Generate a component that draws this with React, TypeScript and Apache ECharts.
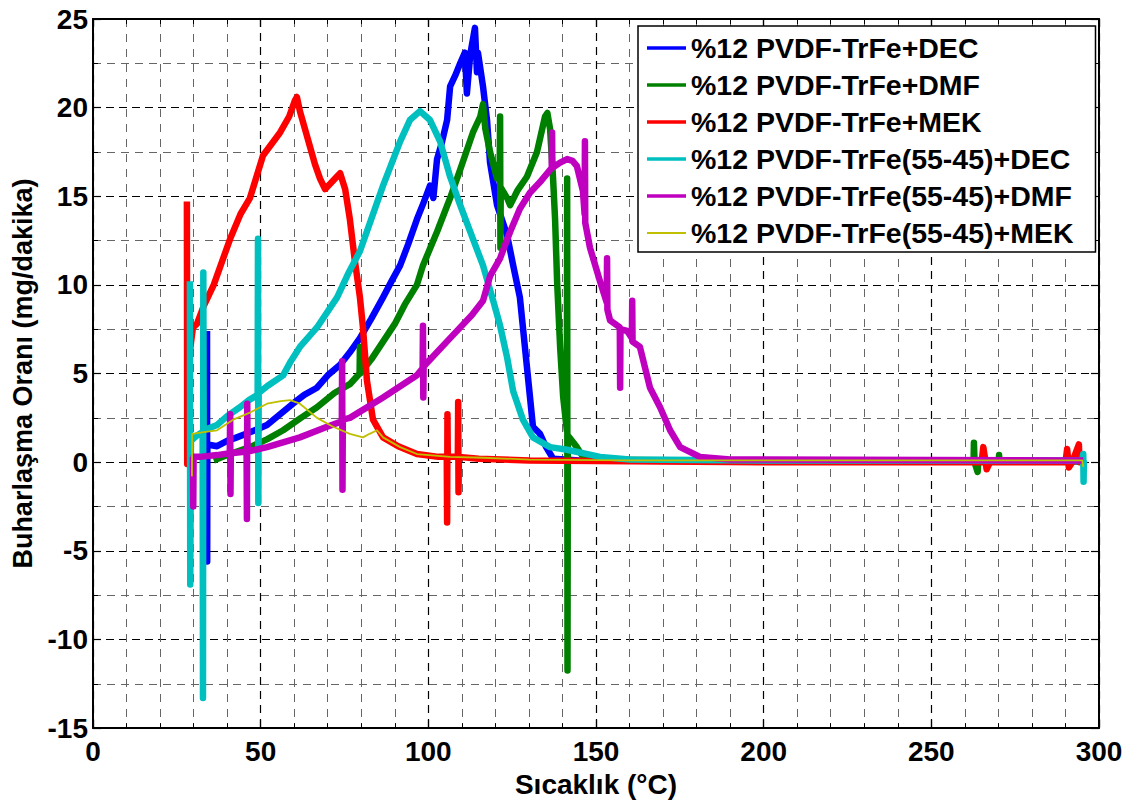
import React, { useEffect, useRef } from "react";
import * as echarts from "echarts";

const X_TICKS = [0, 50, 100, 150, 200, 250, 300];
const Y_TICKS = [-15, -10, -5, 0, 5, 10, 15, 20, 25];

const SERIES_NAMES = [
  "%12 PVDF-TrFe+DEC",
  "%12 PVDF-TrFe+DMF",
  "%12 PVDF-TrFe+MEK",
  "%12 PVDF-TrFe(55-45)+DEC",
  "%12 PVDF-TrFe(55-45)+DMF",
  "%12 PVDF-TrFe(55-45)+MEK",
];
const SERIES_COLORS = ["#0000FF", "#008000", "#FF0000", "#00BFBF", "#BF00BF", "#BFBF00"];

const decData = [
  [34.0, 7.4], [34.05, -5.6], [34.1, 1.0], [37.0, 0.9], [40, 1.2], [42.9, 1.4], [47, 1.7],
  [51.9, 2.1], [55.8, 2.7], [59.6, 3.3], [63, 3.8], [66.8, 4.2], [70, 4.9], [73.7, 5.5],
  [76.6, 6.2], [79.6, 7.0], [83, 8.1], [86.5, 9.3], [89, 10.2], [91.6, 11.1], [94, 12.3],
  [96.6, 13.7], [98.5, 14.6], [100.5, 15.6], [101.5, 14.9], [102.6, 17.1], [104, 18.0],
  [105.6, 19.3], [106.5, 21.2], [108, 21.8], [109.5, 22.5], [110.9, 23.1], [111.5, 20.8],
  [112.5, 23.0], [113.9, 24.5], [114.5, 22.0], [114.8, 23.1], [116.3, 21.2], [117.5, 19.3],
  [118.4, 16.9], [120.5, 14.5], [123.5, 12.8], [125.3, 11.1], [127.3, 9.3], [128.8, 6.5],
  [130.3, 3.7], [131.2, 2.0], [133.3, 1.6], [135, 0.9], [137.2, 0.2], [145, 0.1],
  [200, 0.05], [295.3, 0.05],
];

const dmfData = [
  [36, 0.1], [40, 0.4], [46.8, 0.85], [52, 1.3], [56.7, 1.8], [62, 2.5], [66.8, 3.1],
  [72, 3.9], [76.6, 4.4], [79.5, 5.0], [79.6, 6.5], [79.7, 5.0], [83, 5.8], [86.5, 6.8],
  [90, 7.8], [93, 8.9], [96.6, 10.0], [98.4, 11.1], [102.6, 13.0], [106.5, 14.9],
  [109.5, 16.5], [113.3, 18.6], [115.5, 19.5], [116.3, 20.2], [117, 18.8], [118.4, 17.5],
  [120.5, 16.0], [121.3, 17.0], [121.4, 19.5], [121.5, 12.1], [121.6, 15.5], [123.5, 14.9],
  [124.4, 14.5], [126.5, 15.3], [129.4, 16.1], [132.4, 17.5], [134.8, 19.5], [135.5, 19.7],
  [136.3, 18.8], [137.2, 16.0], [137.8, 13.7], [138.4, 10.2], [139.3, 6.5], [140.2, 3.7],
  [141.3, 1.8], [141.4, 16.0], [141.5, -11.75], [141.6, 1.5], [144.3, 0.85], [146.1, 0.3],
  [150, 0.15], [200, 0.05], [262.6, 0.05], [262.7, 1.1], [262.9, 0.0], [263.8, -0.55],
  [264, 0.05], [270.1, 0.05], [270.2, 0.4], [270.3, 0.05], [295.3, 0.05],
];

const mekData = [
  [28.0, 14.7], [28.1, -0.1], [28.5, 5.7], [29.8, 7.6], [31, 7.8], [33, 8.8], [36, 10.0],
  [40.9, 12.6], [44, 14.0], [46.8, 14.9], [50.7, 17.3], [55.8, 18.6], [58.5, 19.5],
  [60.2, 20.4], [60.8, 20.6], [61.7, 19.8], [63.2, 18.8], [66.2, 16.8], [67.7, 16.0],
  [69.2, 15.4], [72.2, 16.0], [73.7, 16.3], [75.2, 15.4], [76.6, 13.7], [78, 11.5],
  [79.6, 9.3], [80.5, 7.6], [81.7, 4.6], [83.5, 2.4], [86.5, 1.4], [91, 0.9], [96.6, 0.46],
  [103, 0.3], [105.5, 0.3], [105.6, -3.4], [105.7, 2.7], [105.8, 0.3], [108.8, 0.3],
  [108.9, 3.4], [109.0, -1.7], [109.1, 0.3], [115, 0.2], [130, 0.1], [200, 0.0],
  [265, 0.0], [265.5, 0.85], [266.5, -0.4], [267.5, 0.0], [290, 0.0], [290.5, 0.74],
  [291, -0.3], [292, 0.0], [294, 1.0], [294.2, 0.0], [295.3, 0.0],
];

const dec5545Data = [
  [28.9, 10.2], [29.0, -6.9], [29.2, 1.2], [31, 1.5], [32.7, 1.7], [32.8, -13.3],
  [32.9, 10.7], [33.0, 1.8], [37.0, 2.1], [40, 2.6], [43.8, 3.1], [46.5, 3.5], [49.1, 3.8],
  [49.2, 12.6], [49.3, -2.3], [49.4, 3.9], [52, 4.3], [56.7, 4.9], [59, 5.7], [61.7, 6.5],
  [66.8, 7.6], [72.8, 9.3], [76, 10.6], [79.6, 11.9], [86.5, 15.6], [91.6, 18.1],
  [94.5, 19.3], [97.5, 19.8], [100.5, 19.3], [103.5, 18.1], [106.5, 16.1], [109.5, 14.5],
  [113.3, 12.6], [116.3, 11.1], [119.5, 9.0], [121.4, 7.7], [123.5, 5.9], [125.3, 4.0],
  [128.2, 2.4], [131.2, 1.4], [136.3, 0.85], [141.4, 0.7], [151.2, 0.3], [160, 0.15],
  [200, 0.1], [295, 0.1], [295.3, 0.46], [295.4, -1.1], [295.5, 0.1],
];

const dmf5545Data = [
  [29.8, 0.3], [29.9, -2.5], [30.0, 0.3], [31.9, 0.3], [37, 0.4], [40.8, 0.5], [40.9, 2.7],
  [41.0, -1.8], [41.1, 0.5], [45.8, 0.6], [45.9, -3.2], [46.0, 3.3], [46.1, 0.6],
  [51.9, 0.85], [61.7, 1.4], [69.8, 2.0], [74.2, 2.3], [74.3, 5.7], [74.4, -1.55],
  [74.5, 2.4], [76.6, 2.5], [86.5, 3.65], [96.6, 4.9], [98.3, 5.3], [98.4, 7.7],
  [98.5, 3.65], [98.6, 5.4], [106.5, 7.0], [113, 8.3], [116.3, 9.1], [118.4, 10.5],
  [121.4, 11.5], [124.4, 13.0], [127.3, 14.3], [130.3, 15.2], [133.3, 15.8], [136.8, 16.6],
  [136.9, 18.6], [137.0, 16.6], [139.3, 16.9], [141.4, 17.1], [143, 17.0], [144.3, 16.7],
  [146.1, 15.3], [146.6, 14.0], [146.7, 18.1], [146.8, 13.5], [148.2, 12.1], [151.2, 10.2],
  [153.2, 9.0], [153.3, 11.5], [153.4, 8.6], [154.2, 8.0], [157.1, 7.6], [157.2, 4.2],
  [157.3, 7.5], [159.3, 7.4], [160.7, 7.0], [160.8, 9.1], [160.9, 6.8], [163.1, 6.5],
  [166.1, 4.2], [169.1, 3.1], [172.1, 1.8], [175.1, 0.85], [181.0, 0.3], [190, 0.15],
  [295.3, 0.1],
];

const mek5545Data = [
  [29.5, -0.8], [29.6, 1.6], [33, 1.7], [37.0, 1.8], [41.8, 2.4], [46.8, 2.8], [51.9, 3.3],
  [56, 3.45], [58.8, 3.5], [61.7, 3.3], [66.8, 2.5], [71.6, 2.0], [76.6, 1.6], [80.5, 1.4],
  [82.5, 1.6], [84.7, 1.8], [86.5, 1.4], [91.6, 0.85], [96.6, 0.46], [106.5, 0.3],
  [116.3, 0.25], [130, 0.15], [160, 0.1], [295, 0.1], [295.3, -0.27],
];

const ALL_DATA = [decData, dmfData, mekData, dec5545Data, dmf5545Data, mek5545Data];
const LINE_WIDTHS = [6.5, 6.5, 6.5, 6.5, 6.5, 1.8];
const LEGEND_WIDTHS = [3.5, 3.5, 3.5, 3.5, 3.5, 2];

const FONT = "'Liberation Sans', Arial, Helvetica, sans-serif";

export default function App() {
  const ref = useRef<HTMLDivElement>(null);
  useEffect(() => {
    if (!ref.current) return;
    const chart = echarts.init(ref.current, undefined, { renderer: "svg" });
    const xMin = X_TICKS[0];
    const xMax = X_TICKS[X_TICKS.length - 1];
    const yMin = Y_TICKS[0];
    const yMax = Y_TICKS[Y_TICKS.length - 1];
    const labelStyle = { fontFamily: FONT, fontWeight: "bold" as const, fontSize: 28, color: "#000" };
    const boxAxisCommon = {
      type: "value" as const,
      axisLine: { show: true, onZero: false, lineStyle: { color: "#000", width: 2 } },
      axisTick: { show: true, inside: true, length: 8, lineStyle: { color: "#000", width: 1.2 } },
      minorTick: { show: true, length: 5, lineStyle: { color: "#000", width: 1 } },
    };
    chart.setOption({
      animation: false,
      backgroundColor: "#fff",
      grid: { left: 93, top: 19, right: 33, bottom: 70, containLabel: false },
      legend: {
        orient: "vertical",
        left: 638,
        top: 26,
        padding: [7, 22, 4, 9],
        itemGap: 7,
        itemWidth: 39,
        itemHeight: 4,
        backgroundColor: "#fff",
        borderColor: "#000",
        borderWidth: 1.5,
        borderRadius: 0,
        textStyle: { fontFamily: FONT, fontWeight: "bold", fontSize: 28.5, color: "#000", lineHeight: 30 },
        data: SERIES_NAMES.map((n, i) => ({
          name: n,
          icon: `path://M0,0 H40 V${LEGEND_WIDTHS[i]} H0 Z`,
          itemStyle: { color: SERIES_COLORS[i] },
        })),
      },
      xAxis: [
        {
          ...boxAxisCommon,
          min: xMin,
          max: xMax,
          interval: 50,
          position: "bottom",
          minorTick: { ...boxAxisCommon.minorTick, splitNumber: 5 },
          axisLabel: { ...labelStyle, margin: 9 },
          splitLine: { show: true, lineStyle: { color: "#000", type: [8, 6], width: 1.2 } },
          minorSplitLine: { show: true, lineStyle: { color: "#666", type: [8, 7], width: 1 } },
          name: "Sıcaklık (°C)",
          nameLocation: "middle",
          nameGap: 37,
          nameTextStyle: { fontFamily: FONT, fontWeight: "bold", fontSize: 28, color: "#000" },
        },
        {
          ...boxAxisCommon,
          min: xMin,
          max: xMax,
          interval: 50,
          position: "top",
          minorTick: { ...boxAxisCommon.minorTick, splitNumber: 5 },
          axisLabel: { show: false },
          splitLine: { show: false },
        },
      ],
      yAxis: [
        {
          ...boxAxisCommon,
          min: yMin,
          max: yMax,
          interval: 5,
          position: "left",
          minorTick: { ...boxAxisCommon.minorTick, splitNumber: 2 },
          axisLabel: { ...labelStyle, margin: 5 },
          splitLine: { show: true, lineStyle: { color: "#000", type: [8, 5], width: 1.2 } },
          minorSplitLine: { show: true, lineStyle: { color: "#666", type: [8, 6], width: 1 } },
          name: "Buharlaşma Oranı (mg/dakika)",
          nameLocation: "middle",
          nameGap: 55,
          nameTextStyle: { fontFamily: FONT, fontWeight: "bold", fontSize: 27, color: "#000" },
        },
        {
          ...boxAxisCommon,
          min: yMin,
          max: yMax,
          interval: 5,
          position: "right",
          minorTick: { ...boxAxisCommon.minorTick, splitNumber: 2 },
          axisLabel: { show: false },
          splitLine: { show: false },
        },
      ],
      series: SERIES_NAMES.map((n, i) => ({
        name: n,
        type: "line",
        xAxisIndex: 0,
        yAxisIndex: 0,
        data: ALL_DATA[i],
        symbol: "none",
        showSymbol: false,
        clip: true,
        lineStyle: { color: SERIES_COLORS[i], width: LINE_WIDTHS[i], join: "round" },
        itemStyle: { color: SERIES_COLORS[i] },
        emphasis: { disabled: true },
        z: 2 + i,
      })),
    });
    return () => chart.dispose();
  }, []);
  return (
    <div
      ref={ref}
      style={{ position: "fixed", left: 0, top: 0, width: 1132, height: 803, background: "#fff" }}
    />
  );
}
